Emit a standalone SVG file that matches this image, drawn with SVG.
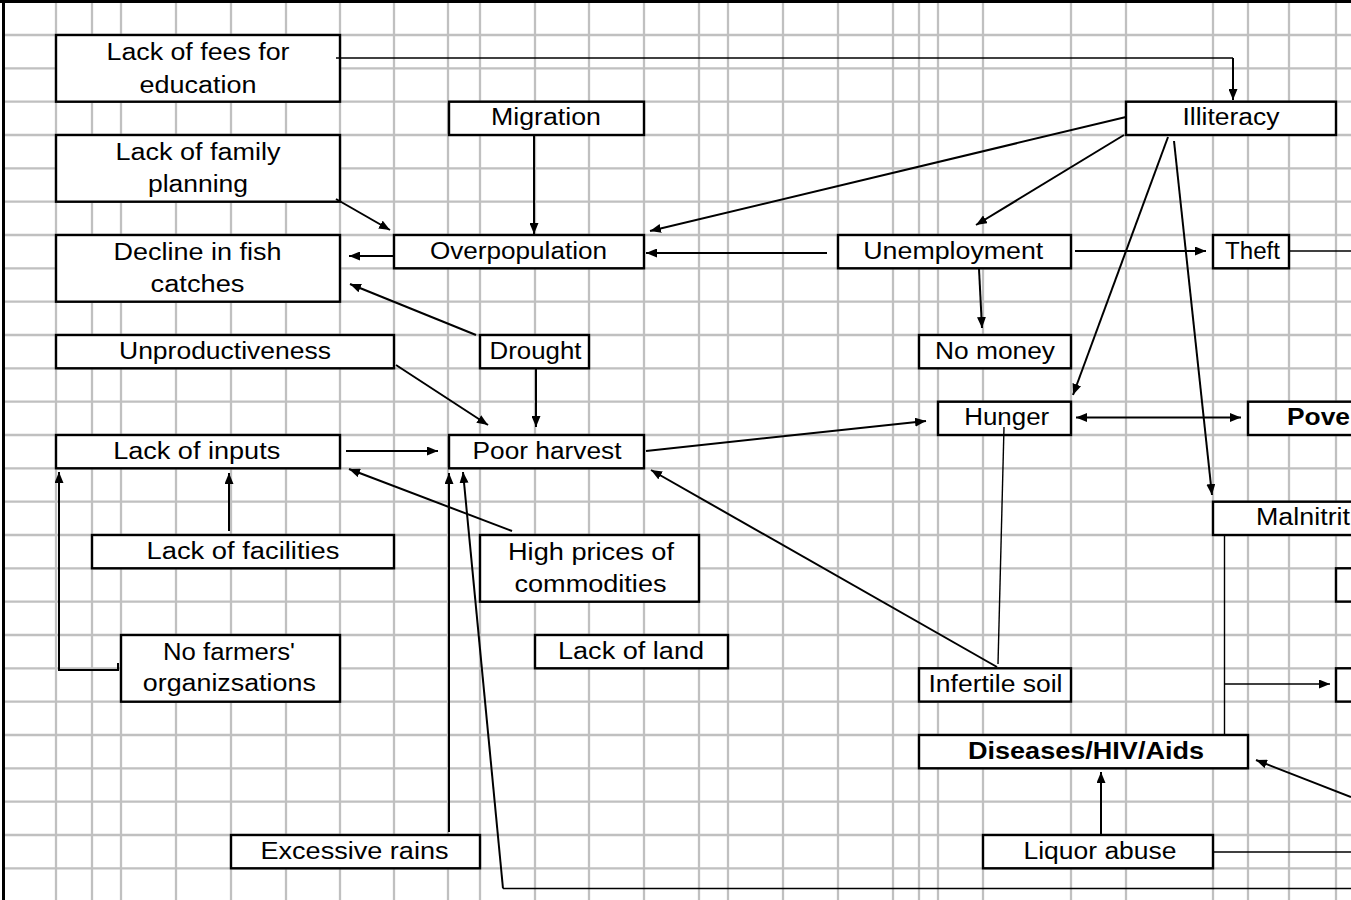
<svg xmlns="http://www.w3.org/2000/svg" width="1351" height="900" viewBox="0 0 1351 900">
<style>
.grid{fill:none;stroke:#c0c0c0;stroke-width:2.3}
.box{fill:#fff;stroke:#000;stroke-width:2.4}
.t{font-family:"Liberation Sans",Arial,sans-serif;font-size:23px;fill:#000;text-anchor:middle}
.s{text-anchor:start}
.b{font-weight:bold}
.c{fill:none;stroke:#000;stroke-width:2}
.thin{stroke-width:1.4}
.ar{marker-end:url(#ah)}
</style>
<defs>
<marker id="ah" viewBox="0 0 11 9" refX="11" refY="4.5" markerWidth="11" markerHeight="9" markerUnits="userSpaceOnUse" orient="auto-start-reverse"><path d="M0,0 L11,4.5 L0,9 z" fill="#000"/></marker>
</defs>
<rect x="0" y="0" width="1351" height="900" fill="#fff"/>
<path class="grid" d="M56,3V900M92,3V900M121,3V900M176,3V900M231,3V900M286,3V900M340,3V900M394,3V900M448,3V900M480,3V900M535,3V900M589,3V900M644,3V900M699,3V900M728,3V900M783,3V900M838,3V900M893,3V900M919,3V900M938,3V900M983,3V900M1071,3V900M1126,3V900M1213,3V900M1248,3V900M1289,3V900M1336,3V900
M5,35H1351M5,68.3H1351M5,101.7H1351M5,135H1351M5,168.3H1351M5,201.7H1351M5,235H1351M5,268.3H1351M5,301.7H1351M5,335H1351M5,368.3H1351M5,401.7H1351M5,435H1351M5,468.3H1351M5,501.7H1351M5,535H1351M5,568.3H1351M5,601.7H1351M5,635H1351M5,668.3H1351M5,701.7H1351M5,735H1351M5,768.3H1351M5,801.7H1351M5,835H1351M5,868.3H1351"/>
<path d="M0,1.5H1351M3.5,0V900" fill="none" stroke="#000" stroke-width="3"/>

<g id="n-fees"><rect class="box" x="56" y="35" width="284" height="66.7"/><text class="t" x="198" y="60" textLength="183" lengthAdjust="spacingAndGlyphs">Lack of fees for</text><text class="t" x="198" y="92.5" textLength="117" lengthAdjust="spacingAndGlyphs">education</text></g>
<g id="n-migration"><rect class="box" x="449" y="101.7" width="195" height="33.3"/><text class="t" x="546" y="125.3" textLength="110" lengthAdjust="spacingAndGlyphs">Migration</text></g>
<g id="n-illiteracy"><rect class="box" x="1126" y="101.7" width="210" height="33.3"/><text class="t" x="1231" y="125.3" textLength="97" lengthAdjust="spacingAndGlyphs">Illiteracy</text></g>
<g id="n-family"><rect class="box" x="56" y="135" width="284" height="66.7"/><text class="t" x="198" y="159.5" textLength="165" lengthAdjust="spacingAndGlyphs">Lack of family</text><text class="t" x="198" y="191.7" textLength="100" lengthAdjust="spacingAndGlyphs">planning</text></g>
<g id="n-decline"><rect class="box" x="56" y="235" width="284" height="66.7"/><text class="t" x="197.5" y="259.5" textLength="168" lengthAdjust="spacingAndGlyphs">Decline in fish</text><text class="t" x="197.5" y="291.7" textLength="94" lengthAdjust="spacingAndGlyphs">catches</text></g>
<g id="n-overpop"><rect class="box" x="394" y="235" width="250" height="33.3"/><text class="t" x="518.5" y="258.8" textLength="177" lengthAdjust="spacingAndGlyphs">Overpopulation</text></g>
<g id="n-unemployment"><rect class="box" x="838" y="235" width="233" height="33.3"/><text class="t" x="953.3" y="258.8" textLength="180" lengthAdjust="spacingAndGlyphs">Unemployment</text></g>
<g id="n-theft"><rect class="box" x="1213" y="235" width="76" height="33.3"/><text class="t" x="1252.5" y="258.8" textLength="55" lengthAdjust="spacingAndGlyphs">Theft</text></g>
<g id="n-unprod"><rect class="box" x="56" y="335" width="338" height="33.3"/><text class="t" x="225" y="358.8" textLength="212" lengthAdjust="spacingAndGlyphs">Unproductiveness</text></g>
<g id="n-drought"><rect class="box" x="480" y="335" width="109" height="33.3"/><text class="t" x="535.5" y="358.8" textLength="92" lengthAdjust="spacingAndGlyphs">Drought</text></g>
<g id="n-nomoney"><rect class="box" x="919" y="335" width="152" height="33.3"/><text class="t" x="995" y="358.8" textLength="120" lengthAdjust="spacingAndGlyphs">No money</text></g>
<g id="n-hunger"><rect class="box" x="938" y="401.7" width="133" height="33.3"/><text class="t" x="1006.7" y="425.3" textLength="85" lengthAdjust="spacingAndGlyphs">Hunger</text></g>
<g id="n-poverty"><rect class="box" x="1248" y="401.7" width="120" height="33.3"/><text class="t s b" x="1287" y="425.3" textLength="63" lengthAdjust="spacingAndGlyphs">Pove</text></g>
<g id="n-poor"><rect class="box" x="449" y="435" width="195" height="33.3"/><text class="t" x="547" y="458.6" textLength="149" lengthAdjust="spacingAndGlyphs">Poor harvest</text></g>
<g id="n-inputs"><rect class="box" x="56" y="435" width="284" height="33.3"/><text class="t" x="196.7" y="458.6" textLength="167" lengthAdjust="spacingAndGlyphs">Lack of inputs</text></g>
<g id="n-malnit"><rect class="box" x="1213" y="501.7" width="150" height="33.3"/><text class="t s" x="1256" y="525.3" textLength="94" lengthAdjust="spacingAndGlyphs">Malnitrit</text></g>
<g id="n-facilities"><rect class="box" x="92" y="535" width="302" height="33.3"/><text class="t" x="243" y="558.8" textLength="193" lengthAdjust="spacingAndGlyphs">Lack of facilities</text></g>
<g id="n-prices"><rect class="box" x="480" y="535" width="219" height="66.7"/><text class="t" x="591" y="559.5" textLength="166" lengthAdjust="spacingAndGlyphs">High prices of</text><text class="t" x="590.5" y="591.7" textLength="152" lengthAdjust="spacingAndGlyphs">commodities</text></g>
<g id="n-right1"><rect class="box" x="1336" y="568.3" width="40" height="33.3"/></g>
<g id="n-farmers"><rect class="box" x="121" y="635" width="219" height="66.7"/><text class="t" x="229" y="659.5" textLength="132" lengthAdjust="spacingAndGlyphs">No farmers'</text><text class="t" x="229.3" y="691.2" textLength="173" lengthAdjust="spacingAndGlyphs">organizsations</text></g>
<g id="n-land"><rect class="box" x="535" y="635" width="193" height="33.3"/><text class="t" x="631" y="658.9" textLength="146" lengthAdjust="spacingAndGlyphs">Lack of land</text></g>
<g id="n-infertile"><rect class="box" x="919" y="668.3" width="152" height="33.3"/><text class="t" x="995.5" y="691.9" textLength="134" lengthAdjust="spacingAndGlyphs">Infertile soil</text></g>
<g id="n-right2"><rect class="box" x="1336" y="668.3" width="40" height="33.3"/></g>
<g id="n-diseases"><rect class="box" x="919" y="735" width="329" height="33.3"/><text class="t b" x="1086" y="759" textLength="236" lengthAdjust="spacingAndGlyphs">Diseases/HIV/Aids</text></g>
<g id="n-liquor"><rect class="box" x="983" y="835" width="230" height="33.3"/><text class="t" x="1100" y="858.8" textLength="153" lengthAdjust="spacingAndGlyphs">Liquor abuse</text></g>
<g id="n-rains"><rect class="box" x="231" y="835" width="249" height="33.3"/><text class="t" x="354.5" y="858.8" textLength="188" lengthAdjust="spacingAndGlyphs">Excessive rains</text></g>

<g id="connectors">
<path class="c thin" d="M336,58 H1233"/>
<path class="c ar" d="M1233,58 V100"/>
<path class="c ar" d="M336,199 L390,230"/>
<path class="c ar" d="M394,256 H349"/>
<path class="c ar" d="M476,335 L350,284"/>
<path class="c ar" d="M534,135 V234"/>
<path class="c ar" d="M1126,117 L650,231"/>
<path class="c ar" d="M827,253 H646"/>
<path class="c ar" d="M1124,135 L976,225"/>
<path class="c ar" d="M1075,251 H1206"/>
<path class="c thin" d="M1289,251 H1351"/>
<path class="c ar" d="M1168,137 L1073,395"/>
<path class="c ar" d="M1174,141 L1212,495"/>
<path class="c ar" d="M979,269 L982,328"/>
<path class="c ar" d="M396,365 L488,425"/>
<path class="c ar" d="M536,369 V427"/>
<path class="c ar" d="M646,451 L926,421"/>
<path class="c ar" d="M346,451 H438"/>
<path class="c ar" d="M512,531 L349,469"/>
<path class="c ar" d="M229,531 V473"/>
<path class="c ar" d="M118,663 V670 H59 V472"/>
<path class="c ar" d="M449,832 V473"/>
<path class="c thin" d="M1351,888.5 H503"/>
<path class="c ar" d="M503,888.5 L463,472"/>
<path class="c ar" d="M997,667 L651,470"/>
<path class="c thin" d="M1004,427 L998,664"/>
<path class="c ar" d="M1076,417.5 H1241" marker-start="url(#ah)"/>
<path class="c thin" d="M1224.5,536 V735"/>
<path class="c thin ar" d="M1225,684 H1330"/>
<path class="c ar" d="M1351,797 L1256,760"/>
<path class="c ar" d="M1101,835 V772"/>
<path class="c thin" d="M1213,852 H1351"/>
</g>
</svg>
